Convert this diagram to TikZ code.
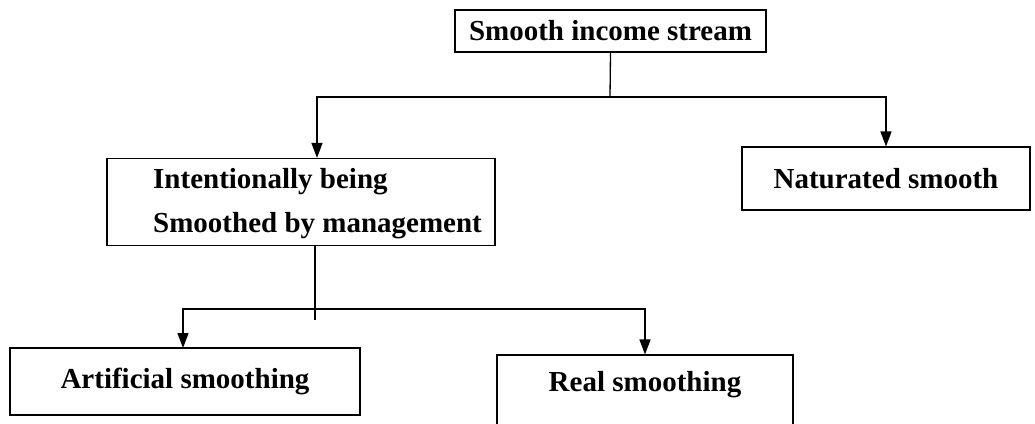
\documentclass[tikz,border=0pt]{standalone}
\usepackage{fontspec}
\setmainfont{Liberation Serif}
\usetikzlibrary{arrows.meta,positioning,calc}

\tikzset{
  box/.style={draw, line width=1.1pt, inner sep=0pt},
  lbl/.style={font=\fontsize{29}{35}\selectfont\bfseries},
  link/.style={line width=1.3pt},
  arr/.style={line width=1.3pt, -{Triangle[width=11pt,length=15pt]}}
}

\begin{document}
\begin{tikzpicture}[x=1pt,y=-1pt]
            \useasboundingbox (0,0) rectangle (1035,423);

            % boxes
            \node[box, lbl, minimum width=311pt, minimum height=42pt] (stream) at (610.5,31) {Smooth income stream};
            \node[box, minimum width=388pt, minimum height=87pt] (manage) at (301,202) {};
            \node[lbl, anchor=west, align=left, inner sep=0pt] (managetxt) at (153,204) {Intentionally being\\[9pt]Smoothed by management};
            \node[box, lbl, minimum width=288pt, minimum height=63pt] (natural) at (886,178.5) {Naturated smooth};
            \node[box, lbl, minimum width=350pt, minimum height=67pt] (artificial) at (185,381.5) {Artificial smoothing};
            \node[box, minimum width=296pt, minimum height=90pt] (real) at (645,400) {};
            \node[lbl, inner sep=0pt] (realtxt) at (645,385) {Real smoothing};

            % junctions
            \coordinate (top) at (610,97);
            \coordinate (mid) at (315,309);
            \coordinate (stub) at (315,320);

            % connectors
            \draw[link] (stream.south) -- (top);
            \draw[arr] (top) -| (manage.north -| 317,0);
            \draw[arr] (top) -| (natural.north);
            \draw[link] (manage.south -| mid) -- (stub);
            \draw[arr] (mid) -| (183,348);
            \draw[arr] (mid) -| (real.north);
        \end{tikzpicture}
\end{document}
